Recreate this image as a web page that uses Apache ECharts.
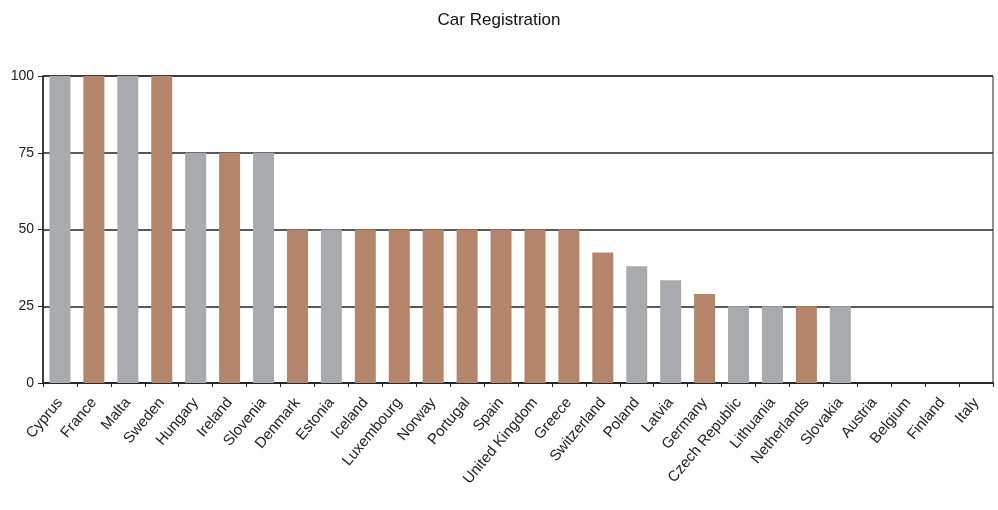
<!DOCTYPE html>
<html>
<head>
<meta charset="utf-8">
<script src="https://cdn.jsdelivr.net/npm/echarts@6/dist/echarts.min.js"></script>
<style>
  html, body { margin: 0; padding: 0; background: #fff; }
  #chart { width: 998px; height: 510px; }
</style>
</head>
<body>
<div id="chart"></div>
<script>
const countries = [
  "Cyprus", "France", "Malta", "Sweden", "Hungary", "Ireland", "Slovenia",
  "Denmark", "Estonia", "Iceland", "Luxembourg", "Norway", "Portugal", "Spain",
  "United Kingdom", "Greece", "Switzerland", "Poland", "Latvia", "Germany",
  "Czech Republic", "Lithuania", "Netherlands", "Slovakia", "Austria",
  "Belgium", "Finland", "Italy"
]

const scores = [
  100, 100, 100, 100, 75, 75, 75,
  50, 50, 50, 50, 50, 50, 50,
  50, 50, 42.5, 38, 33.5, 29,
  25, 25, 25, 25, 0,
  0, 0, 0
]

// "g" = grey bar, "b" = brown bar
const groups = [
  "g", "b", "g", "b", "g", "b", "g",
  "b", "g", "b", "b", "b", "b", "b",
  "b", "b", "b", "g", "g", "b",
  "g", "g", "b", "g", "g",
  "g", "g", "g"
]

const yTicks = [0, 25, 50, 75, 100]

const groupColors = { g: "#a8aaad", b: "#b4846b" }

const chart = echarts.init(document.getElementById("chart"), undefined, {
  renderer: "canvas",
})

chart.setOption({
  backgroundColor: "#fff",
  animation: false,
  title: {
    text: "Car Registration",
    left: "center",
    top: 7,
    textStyle: {
      fontFamily: "Liberation Sans, Arial, sans-serif",
      fontSize: 17,
      fontWeight: "normal",
      color: "#111",
    },
  },
  grid: {
    left: 43,
    right: 5,
    top: 76,
    bottom: 127,
    show: true,
    borderColor: "#222",
    borderWidth: 1,
  },
  xAxis: {
    type: "category",
    data: countries,
    axisLine: { lineStyle: { color: "#222", width: 1.5 } },
    axisTick: { show: true, length: 4, lineStyle: { color: "#222" } },
    axisLabel: {
      interval: 0,
      rotate: 50,
      fontFamily: "Liberation Sans, Arial, sans-serif",
      fontSize: 15,
      color: "#222",
      margin: 17,
    },
  },
  yAxis: {
    type: "value",
    min: yTicks[0],
    max: yTicks[yTicks.length - 1],
    interval: 25,
    axisLine: { show: true, lineStyle: { color: "#222", width: 1.5 } },
    axisTick: { show: true, length: 5, lineStyle: { color: "#222" } },
    axisLabel: {
      fontFamily: "Liberation Sans, Arial, sans-serif",
      fontSize: 14,
      color: "#222",
      margin: 9,
    },
    splitLine: { lineStyle: { color: "#222", width: 1.5 } },
  },
  series: [
    {
      type: "bar",
      barWidth: 21,
      data: scores.map((v, i) => ({
        value: v,
        itemStyle: { color: groupColors[groups[i]] },
      })),
    },
  ],
})
</script>
</body>
</html>
